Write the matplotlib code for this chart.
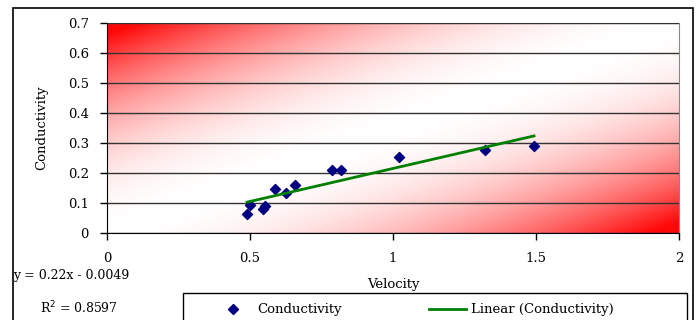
import numpy as np
import matplotlib.pyplot as plt
from matplotlib.patches import Rectangle
from matplotlib.lines import Line2D

velocity = [0.49, 0.50, 0.545, 0.553, 0.586, 0.626, 0.657, 0.788, 0.819, 1.02, 1.32, 1.493]
conductivity = [0.063, 0.092, 0.080, 0.090, 0.146, 0.134, 0.159, 0.211, 0.211, 0.252, 0.277, 0.289]

slope = 0.22
intercept = -0.0049
r_squared = 0.8597

plt.rcParams['font.family'] = ['DejaVu Serif']
plt.rcParams['font.size'] = 9

fig = plt.figure(figsize=(6.97, 3.2), dpi=100)
ax = fig.add_axes([107 / 697, 1 - 233 / 320, 572 / 697, 210 / 320])

# diagonal red-white-red gradient background
n = 200
u, v = np.meshgrid(np.linspace(0, 1, n), np.linspace(0, 1, n))
t = np.clip(np.abs(u - v) * 1.05, 0, 1) ** 2.0
rgb = np.dstack([np.ones_like(t), 1 - 0.97 * t, 1 - 0.97 * t])
ax.imshow(rgb, extent=[0, 2, 0, 0.7], origin='lower', aspect='auto', zorder=0)

ax.set_xlim(0, 2)
ax.set_ylim(0, 0.7)
ax.set_xticks([0, 0.5, 1, 1.5, 2])
ax.set_xticklabels(['0', '0.5', '1', '1.5', '2'])
ax.set_yticks(np.arange(0, 0.71, 0.1))
ax.set_yticklabels(['0', '0.1', '0.2', '0.3', '0.4', '0.5', '0.6', '0.7'])
ax.yaxis.grid(True, color='#333333', linewidth=1.0, zorder=1)
ax.set_axisbelow(False)
ax.tick_params(direction='out', length=5, width=1, labelsize=9.5)
ax.tick_params(axis='x', pad=9)
ax.tick_params(axis='y', pad=8)
for s in ['top', 'right']:
    ax.spines[s].set_color('#888888')
for s in ['left', 'bottom']:
    ax.spines[s].set_color('black')

ax.scatter(velocity, conductivity, marker='D', s=26, color='#000080', zorder=3)
xfit = np.array([min(velocity), max(velocity)])
ax.plot(xfit, slope * xfit + intercept, color='#008000', linewidth=2, zorder=4)

ax.set_xlabel('Velocity', fontsize=9.5, labelpad=9)
ax.set_ylabel('Conductivity', fontsize=9.5, labelpad=14)

# outer chart border
fig.patches.append(Rectangle((13 / 697, -0.1), 680 / 697, 1.1 - 8 / 320,
                             transform=fig.transFigure, fill=False,
                             edgecolor='black', linewidth=1.2))

fig.text(71 / 697, 1 - 276 / 320, f'y = {slope}x - {abs(intercept)}',
         ha='center', va='center', fontsize=9)
fig.text(79 / 697, 1 - 308 / 320, f'R$^2$ = {r_squared}',
         ha='center', va='center', fontsize=9)

# legend box runs off the bottom of the figure
fig.patches.append(Rectangle((183 / 697, -0.1), 504 / 697, 0.1 + 27 / 320,
                             transform=fig.transFigure, fill=False,
                             edgecolor='black', linewidth=1.0))
handles = [Line2D([], [], marker='D', linestyle='none', color='#000080', markersize=5),
           Line2D([], [], color='#008000', linewidth=2)]
fig.legend(handles, ['Conductivity', 'Linear (Conductivity)'], ncol=2, frameon=False,
           loc='center left', bbox_to_anchor=(215 / 697, 1 - 310 / 320),
           fontsize=9.5, handlelength=2.8, columnspacing=6.6, handletextpad=0.4,
           borderpad=0, borderaxespad=0)

fig.savefig('out.png', dpi=100)
